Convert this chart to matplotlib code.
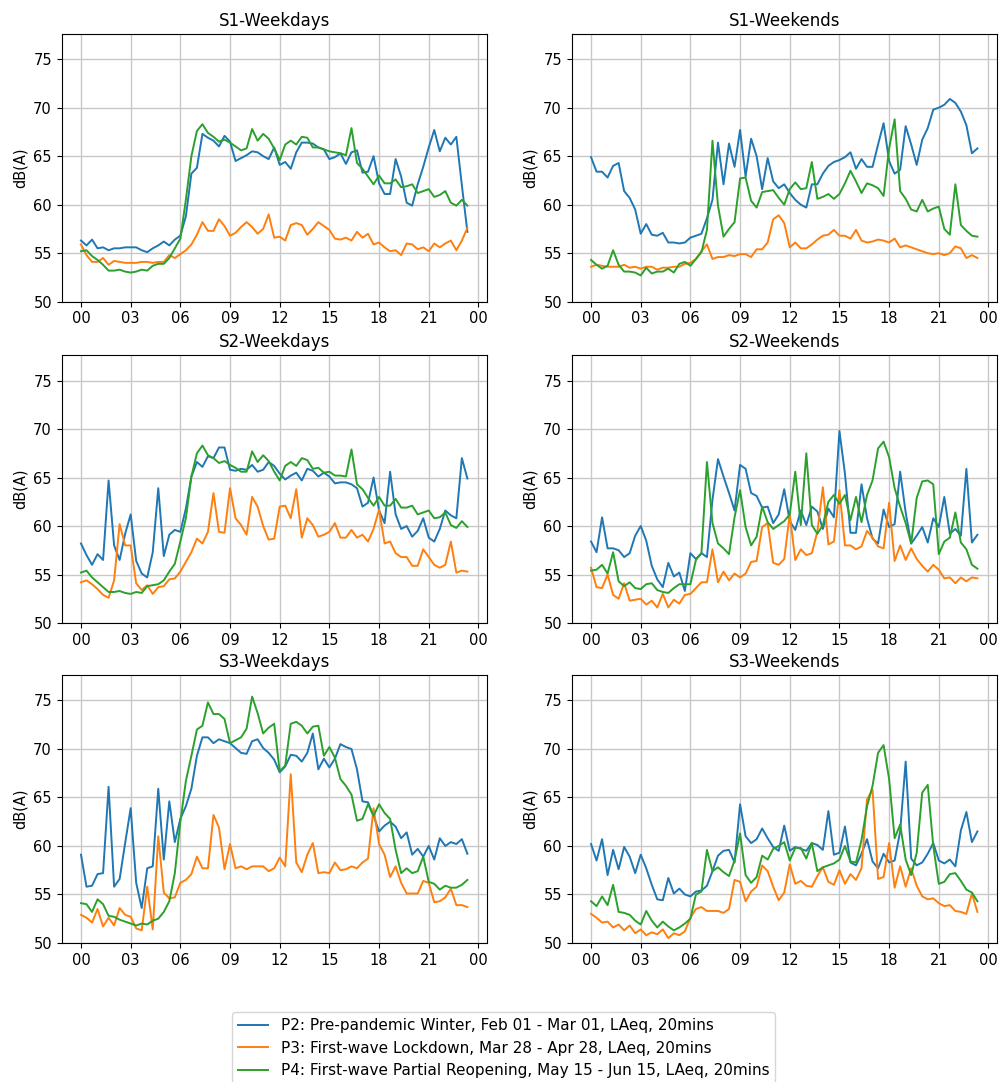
import numpy as np
import matplotlib
matplotlib.use("Agg")
import matplotlib.pyplot as plt

# 20-minute LAeq profiles, 71 samples from 00:00 to 23:20
s1_wd_p2 = [56.3,55.8,56.4,55.5,55.6,55.3,55.5,55.5,55.6,55.6,
            55.6,55.3,55.1,55.5,55.8,56.2,55.8,56.4,56.8,58.8,
            63.2,63.8,67.3,66.9,66.6,66.0,67.1,66.5,64.5,64.8,
            65.1,65.5,65.4,65.0,64.7,65.9,64.1,64.4,63.7,65.4,
            66.4,66.4,66.3,65.9,65.7,64.7,64.9,65.3,64.2,65.4,
            65.6,63.3,63.4,65.0,62.2,61.1,61.1,64.7,62.9,60.2,
            59.9,62.1,63.9,65.9,67.7,65.5,66.9,66.2,67.0,62.0,57.2]
s1_wd_p3 = [55.9,54.8,54.1,54.1,54.5,53.8,54.2,54.1,54.0,54.0,
            54.0,54.1,54.1,54.0,54.1,54.1,54.8,54.5,54.9,55.3,
            55.9,56.9,58.2,57.3,57.3,58.5,57.8,56.8,57.1,57.7,
            58.2,57.7,57.0,57.5,59.0,56.6,56.7,56.3,57.9,58.1,
            57.9,56.9,57.5,58.2,57.8,57.4,56.5,56.4,56.6,56.3,
            57.2,56.6,57.0,55.9,56.1,55.6,55.2,55.3,54.8,56.0,
            55.9,55.4,55.6,55.2,56.0,55.6,56.0,56.3,55.3,56.3,57.6]
s1_wd_p4 = [55.2,55.3,54.7,54.3,53.8,53.2,53.2,53.3,53.1,53.0,
            53.1,53.3,53.2,53.7,53.9,53.9,54.5,55.5,56.5,60.5,
            65.0,67.6,68.3,67.4,67.0,66.5,66.7,66.4,66.0,65.6,
            65.8,67.8,66.6,67.3,66.8,65.8,64.6,66.2,66.6,66.2,
            67.0,66.9,65.9,65.9,65.7,65.5,65.4,65.3,65.1,67.9,
            64.3,63.7,62.9,62.1,63.0,62.2,62.2,62.6,61.8,61.9,
            62.1,61.2,61.4,61.6,60.8,61.0,61.4,60.2,59.9,60.5,59.9]

s1_we_p2 = [64.9,63.4,63.4,62.8,64.0,64.3,61.4,60.7,59.5,57.0,
            58.0,56.9,56.8,57.1,56.1,56.1,56.0,56.1,56.6,56.8,
            57.0,58.6,60.5,66.4,62.1,66.3,63.9,67.7,62.9,66.8,
            65.0,61.6,64.8,62.4,61.7,62.1,61.2,60.5,60.0,59.7,
            62.1,62.1,63.2,64.0,64.4,64.6,64.9,65.4,63.7,64.7,
            63.9,63.9,66.2,68.4,64.5,63.2,63.6,68.1,66.2,64.1,
            66.7,67.9,69.8,70.0,70.3,70.9,70.5,69.6,68.2,65.3,65.8]
s1_we_p3 = [53.6,53.8,53.7,53.6,53.6,53.6,53.8,53.5,53.6,53.4,
            53.6,53.6,53.3,53.5,53.5,53.6,53.6,53.9,54.0,54.4,
            55.2,55.9,54.4,54.6,54.6,54.8,54.7,54.9,54.9,54.6,
            55.4,55.4,56.1,58.5,58.9,58.1,55.6,56.1,55.5,55.5,
            55.9,56.4,56.8,56.9,57.4,56.8,56.8,56.5,57.4,56.3,
            56.1,56.2,56.4,56.3,56.1,56.5,55.6,55.8,55.6,55.4,
            55.2,55.0,54.9,55.0,54.8,55.0,55.7,55.5,54.5,54.8,54.5]
s1_we_p4 = [54.3,53.8,53.4,53.7,55.3,53.8,53.1,53.1,53.0,52.7,
            53.5,52.9,53.1,53.1,53.4,53.0,53.9,54.1,53.7,54.4,
            55.1,57.4,66.6,59.9,56.7,57.5,58.2,62.7,62.8,60.4,
            59.7,61.3,61.4,61.5,60.7,60.0,61.6,62.3,61.6,61.7,
            64.4,60.6,60.8,61.1,60.6,61.1,62.2,63.5,62.4,61.2,
            62.2,62.0,61.7,60.9,65.8,68.8,61.4,60.6,59.5,59.3,
            60.5,59.3,59.6,59.8,57.5,56.9,62.1,57.9,57.3,56.8,56.7]

s2_wd_p2 = [58.2,57.0,56.0,57.1,56.5,64.7,58.0,56.5,59.2,61.2,
            56.4,55.1,54.7,57.3,63.9,56.9,59.1,59.6,59.4,61.8,
            65.1,66.6,66.1,67.2,67.0,68.1,68.1,65.8,65.7,65.9,
            65.8,66.3,65.6,65.8,66.6,66.2,65.4,64.8,65.2,65.5,
            64.7,65.9,65.7,65.1,65.5,65.1,64.4,64.5,64.5,64.3,
            63.9,62.0,62.4,65.0,61.6,60.3,65.6,61.2,59.7,60.0,
            58.9,59.5,60.8,58.8,58.4,59.7,61.6,61.1,60.8,67.0,64.9]
s2_wd_p3 = [54.2,54.4,54.0,53.5,52.9,52.6,54.4,60.2,58.0,58.0,
            54.1,53.4,53.9,53.0,53.7,53.8,54.5,54.6,55.3,56.3,
            57.3,58.7,58.2,59.4,63.4,59.4,59.3,63.9,60.8,60.1,
            59.1,63.0,62.0,60.0,58.6,58.7,62.0,62.1,60.8,63.8,
            58.8,60.8,60.1,58.9,59.1,59.4,60.3,58.8,58.8,59.6,
            58.8,59.1,58.4,59.7,61.7,58.2,58.4,57.2,56.8,56.8,
            55.9,55.9,57.6,56.8,56.0,55.7,56.0,58.4,55.2,55.4,55.3]
s2_wd_p4 = [55.2,55.4,54.7,54.2,53.7,53.2,53.2,53.3,53.1,53.0,
            53.2,53.1,53.8,53.9,54.0,54.4,55.3,56.1,58.4,60.8,
            65.1,67.5,68.3,67.3,67.0,66.5,66.7,66.3,66.0,65.6,
            65.6,67.7,66.6,67.3,66.7,65.6,64.7,66.2,66.6,66.2,
            67.0,66.8,65.9,66.0,65.5,65.6,65.2,65.2,65.1,67.9,
            64.3,63.8,62.9,62.1,63.0,62.1,62.1,62.8,61.9,61.9,
            62.1,61.2,61.4,61.6,60.8,60.9,61.4,60.1,59.8,60.5,59.9]

s2_we_p2 = [58.4,57.3,60.9,57.7,57.7,57.5,56.8,57.2,59.0,60.0,
            58.5,55.9,54.5,53.7,56.2,54.8,55.2,53.3,57.2,56.6,
            57.2,56.8,62.7,66.9,65.1,63.4,61.6,66.3,65.9,63.4,
            63.1,61.9,62.0,60.3,61.2,63.8,60.5,59.6,61.6,60.1,
            62.0,61.5,59.7,61.8,60.9,69.8,65.4,59.3,59.3,64.3,
            60.8,58.7,58.2,61.7,59.9,60.2,65.6,61.4,58.2,59.0,
            59.9,58.3,60.8,59.9,63.0,59.2,59.7,59.0,65.9,58.3,59.1]
s2_we_p3 = [55.7,53.7,53.6,55.0,52.9,52.5,54.1,52.3,52.4,52.5,
            51.9,52.3,51.6,53.0,51.6,52.4,52.0,52.9,53.0,53.6,
            54.2,54.2,57.6,54.2,55.3,54.4,55.1,54.7,55.1,56.3,
            56.4,59.9,60.3,56.2,56.0,56.6,61.2,56.5,57.6,57.0,
            57.2,59.4,64.0,58.1,58.4,63.7,58.0,58.0,57.6,57.9,
            59.5,58.8,57.9,57.7,62.4,56.4,58.0,56.5,57.7,56.6,
            55.9,55.3,56.0,55.5,54.6,54.7,54.1,54.7,54.3,54.7,54.6]
s2_we_p4 = [55.4,55.5,56.0,55.1,57.3,54.3,53.8,54.2,53.6,53.5,
            54.0,54.1,53.4,53.2,53.1,53.6,54.0,54.0,54.0,56.5,
            57.2,66.6,60.3,58.2,57.7,57.1,60.9,63.7,59.9,58.0,
            58.9,62.0,60.4,59.7,60.1,60.5,61.2,65.6,60.1,67.5,
            60.1,59.2,60.1,62.5,63.2,62.3,63.2,60.6,63.0,60.4,
            63.2,64.7,68.0,68.7,67.1,63.9,62.0,60.3,58.2,62.9,
            64.6,64.7,64.3,57.1,58.4,58.8,61.4,58.3,57.6,56.0,55.6]

s3_wd_p2 = [59.1,55.8,55.9,57.1,57.2,66.1,55.8,56.6,60.3,63.9,
            56.2,53.6,57.7,57.9,65.9,58.6,64.6,60.4,62.8,64.1,
            65.9,69.3,71.2,71.2,70.6,71.0,70.8,70.6,70.1,69.6,
            69.5,70.8,71.0,70.1,69.6,68.9,67.6,68.2,69.4,69.3,
            68.7,69.6,71.6,67.9,69.0,68.1,69.0,70.5,70.2,70.0,
            67.9,64.6,64.5,63.1,61.5,62.1,62.5,62.0,60.8,61.4,
            59.1,59.7,58.9,60.0,58.6,60.8,60.0,60.4,60.2,60.7,59.2]
s3_wd_p3 = [52.9,52.6,52.1,53.5,51.7,52.6,51.8,53.6,52.9,52.7,
            51.5,51.3,55.8,51.4,61.0,55.2,54.6,54.7,56.2,56.5,
            57.1,58.9,57.7,57.7,63.2,61.9,57.6,60.2,57.7,57.9,
            57.6,57.9,57.9,57.9,57.4,57.7,58.8,57.9,67.4,58.3,
            57.3,59.1,60.3,57.2,57.3,57.2,58.3,57.5,57.6,57.9,
            57.7,58.3,58.7,63.9,60.2,59.1,56.8,57.9,56.2,55.1,
            55.1,55.1,56.4,56.2,54.2,54.3,54.7,55.6,53.9,53.9,53.7]
s3_wd_p4 = [54.1,54.0,53.2,54.5,54.0,52.8,52.7,52.4,52.2,52.0,
            51.8,52.0,51.9,52.3,52.5,53.2,54.3,57.2,62.5,66.7,
            69.3,72.0,72.4,74.8,73.6,73.6,73.1,70.6,70.9,71.2,
            72.1,75.4,73.7,71.6,72.2,72.6,67.7,68.3,72.6,72.8,
            72.4,71.6,72.3,72.4,69.3,70.2,69.1,66.9,66.2,65.3,
            62.6,62.8,64.3,63.1,64.3,63.4,62.8,59.6,57.2,57.7,
            57.2,57.4,58.9,56.3,56.1,55.5,55.9,55.7,55.7,56.0,56.5]

s3_we_p2 = [60.2,58.5,60.7,57.0,59.6,57.6,59.9,58.9,57.2,59.1,
            57.7,56.0,54.5,54.4,56.7,55.1,55.6,55.0,54.8,55.3,
            55.4,55.9,57.4,59.0,59.5,59.6,58.3,64.3,61.0,60.3,
            60.7,61.8,60.8,59.9,59.5,62.1,59.5,59.9,59.7,59.5,
            60.3,60.1,59.6,63.6,59.1,59.3,62.0,58.3,58.0,59.2,
            60.7,58.4,57.7,59.2,58.3,58.5,61.5,68.7,58.7,58.0,
            58.3,59.2,60.3,58.5,58.2,58.6,57.9,61.6,63.5,60.4,61.5]
s3_we_p3 = [53.0,52.6,52.1,52.2,51.6,51.9,51.3,51.8,51.0,51.4,
            50.8,51.1,50.9,51.4,50.5,51.0,50.8,51.2,52.6,53.5,
            53.7,53.3,53.3,53.3,53.1,53.5,56.5,56.3,54.3,55.3,
            55.8,58.0,57.4,55.8,54.4,55.2,58.1,56.1,56.4,55.9,
            55.8,56.9,57.8,56.3,56.0,57.5,56.1,57.1,56.5,57.7,
            64.8,65.8,56.6,56.8,60.3,55.7,57.9,55.8,57.7,55.9,
            54.8,54.5,54.6,54.1,53.8,53.9,53.3,53.2,53.0,55.1,53.2]
s3_we_p4 = [54.3,53.8,54.8,53.9,56.0,53.2,53.1,52.9,52.3,51.9,
            53.3,52.3,51.6,52.2,51.7,51.3,51.6,52.0,52.5,55.0,
            55.3,59.6,57.4,57.8,57.3,56.9,58.5,61.3,57.0,56.2,
            56.8,59.0,58.6,59.7,60.0,60.4,58.5,59.8,59.8,58.7,
            60.3,57.4,57.8,58.0,58.2,58.6,60.0,58.4,58.3,60.6,
            64.1,66.2,69.6,70.4,66.9,60.8,62.2,58.6,57.0,59.3,
            65.5,66.3,60.0,56.1,56.3,57.1,57.2,56.4,55.5,55.2,54.3]

titles = ["S1-Weekdays", "S1-Weekends", "S2-Weekdays",
          "S2-Weekends", "S3-Weekdays", "S3-Weekends"]
panels = [(s1_wd_p2, s1_wd_p3, s1_wd_p4), (s1_we_p2, s1_we_p3, s1_we_p4),
          (s2_wd_p2, s2_wd_p3, s2_wd_p4), (s2_we_p2, s2_we_p3, s2_we_p4),
          (s3_wd_p2, s3_wd_p3, s3_wd_p4), (s3_we_p2, s3_we_p3, s3_we_p4)]
labels = ["P2: Pre-pandemic Winter, Feb 01 - Mar 01, LAeq, 20mins",
          "P3: First-wave Lockdown, Mar 28 - Apr 28, LAeq, 20mins",
          "P4: First-wave Partial Reopening, May 15 - Jun 15, LAeq, 20mins"]
colors = ["#1f77b4", "#ff7f0e", "#2ca02c"]
tick_hours = [0, 3, 6, 9, 12, 15, 18, 21, 24]
tick_labels = ["00", "03", "06", "09", "12", "15", "18", "21", "00"]

hours = np.arange(71) / 3.0

fig = plt.figure(figsize=(10.06, 10.82), dpi=100)
lefts = [0.0613, 0.5683]
bottoms = [0.7212, 0.4242, 0.1285]
w, h = 0.4225, 0.2474

lines = []
for k, (title, series) in enumerate(zip(titles, panels)):
    ax = fig.add_axes([lefts[k % 2], bottoms[k // 2], w, h])
    lines = []
    for vals, c in zip(series, colors):
        ln, = ax.plot(hours, vals, color=c, lw=1.4)
        lines.append(ln)
    ax.set_title(title, fontsize=12)
    ax.set_ylabel("dB(A)", fontsize=10.5)
    ax.set_ylim(50, 77.6)
    ax.set_yticks([50, 55, 60, 65, 70, 75])
    ax.set_xticks(tick_hours)
    ax.set_xticklabels(tick_labels)
    ax.tick_params(labelsize=10.5)
    ax.grid(True, color="#c8c8c8", lw=1.0)

fig.legend(lines, labels, loc="upper center", bbox_to_anchor=(0.5005, 1 - 1012 / 1082),
           fontsize=11, frameon=True, borderaxespad=0.0)

fig.savefig("out.png", dpi=100)
